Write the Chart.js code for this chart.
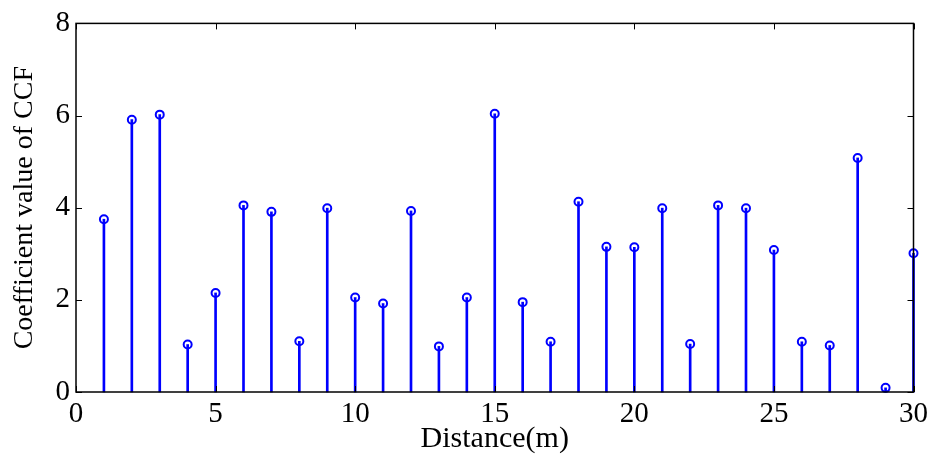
<!DOCTYPE html>
<html>
<head>
<meta charset="utf-8">
<script src="https://cdn.jsdelivr.net/npm/chart.js@4.4.0/dist/chart.umd.min.js"></script>
<style>
  html, body { margin: 0; padding: 0; background: #fff; }
  #wrap { width: 933px; height: 454px; }
</style>
</head>
<body>
<div id="wrap"><canvas id="ccf"></canvas></div>
<script>
/* Datos */
const distancias = [1, 2, 3, 4, 5, 6, 7, 8, 9, 10, 11, 12, 13, 14, 15,
    16, 17, 18, 19, 20, 21, 22, 23, 24, 25, 26, 27, 28, 29, 30];
const valoresCCF = [3.75, 5.91, 6.02, 1.03, 2.15, 4.05, 3.91, 1.10, 3.99, 2.05,
    1.92, 3.93, 0.99, 2.05, 6.04, 1.95, 1.09, 4.13, 3.15, 3.14,
    3.99, 1.04, 4.05, 3.99, 3.08, 1.09, 1.01, 5.08, 0.09, 3.01];
const ticksX = [0, 5, 10, 15, 20, 25, 30];
const ticksY = [0, 2, 4, 6, 8];

const puntos = distancias.map((d, i) => ({ x: d, y: valoresCCF[i] }));
const azul = "#0000ff";
const serif = "'Liberation Serif', 'Times New Roman', serif";

/* Marco y ticks hacia dentro, estilo MATLAB */
const marco = {
    id: "marco",
    afterDraw(chart) {
        const { ctx, chartArea: a, scales: { x, y } } = chart;
        ctx.save();
        ctx.strokeStyle = "#000";
        ctx.lineWidth = 1;
        ticksX.forEach(v => {
            const px = Math.round(x.getPixelForValue(v)) + 0.5;
            ctx.beginPath();
            ctx.moveTo(px, a.bottom); ctx.lineTo(px, a.bottom - 6);
            ctx.moveTo(px, a.top); ctx.lineTo(px, a.top + 6);
            ctx.stroke();
        });
        ticksY.forEach(v => {
            const py = Math.round(y.getPixelForValue(v)) + 0.5;
            ctx.beginPath();
            ctx.moveTo(a.left, py); ctx.lineTo(a.left + 6, py);
            ctx.moveTo(a.right, py); ctx.lineTo(a.right - 6, py);
            ctx.stroke();
        });
        ctx.lineWidth = 1.5;
        ctx.strokeRect(a.left, a.top, a.right - a.left, a.bottom - a.top);
        ctx.restore();
    }
};

new Chart(document.getElementById("ccf").getContext("2d"), {
    type: "bar",
    data: {
        datasets: [
            {
                type: "line",
                data: puntos,
                showLine: false,
                pointStyle: "circle",
                pointRadius: 4,
                pointBorderWidth: 2,
                pointBorderColor: azul,
                pointBackgroundColor: "rgba(0,0,0,0)",
                clip: false
            },
            {
                type: "bar",
                data: puntos,
                backgroundColor: azul,
                barThickness: 2,
                borderWidth: 0,
                clip: false
            }
        ]
    },
    options: {
        responsive: true,
        maintainAspectRatio: false,
        animation: false,
        events: [],
        layout: { padding: { left: 0, top: 20, right: 19, bottom: 0 } },
        plugins: { legend: { display: false }, tooltip: { enabled: false } },
        scales: {
            x: {
                type: "linear",
                min: 0, max: 30,
                offset: false,
                afterBuildTicks: s => { s.ticks = ticksX.map(v => ({ value: v })); },
                afterFit: s => { s.height = 62; },
                grid: { display: false, drawTicks: false },
                border: { display: false },
                ticks: { color: "#000", padding: 5, maxRotation: 0,
                    font: { family: serif, size: 29 } },
                title: { display: true, text: "Distance(m)", color: "#000",
                    padding: { top: 0, bottom: -3 },
                    font: { family: serif, size: 30 } }
            },
            y: {
                min: 0, max: 8,
                afterBuildTicks: s => { s.ticks = ticksY.map(v => ({ value: v })); },
                afterFit: s => { s.width = 76; },
                grid: { display: false, drawTicks: false },
                border: { display: false },
                ticks: { color: "#000", padding: 6,
                    font: { family: serif, size: 29 } },
                title: { display: true, text: "Coefficient value of CCF", color: "#000",
                    padding: { top: 8, bottom: 0 },
                    font: { family: serif, size: 28 } }
            }
        }
    },
    plugins: [marco]
});
</script>
</body>
</html>
